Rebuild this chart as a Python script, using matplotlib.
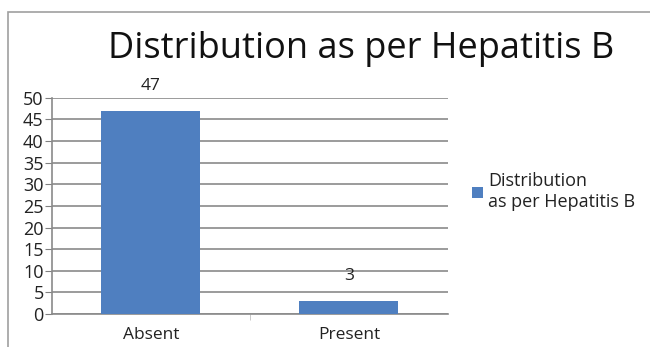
import numpy as np
import matplotlib.pyplot as plt
from matplotlib.patches import Rectangle

categories = ['Absent', 'Present']
counts = [47, 3]
series_name = 'Distribution\nas per Hepatitis B'
title = 'Distribution as per Hepatitis B'
yticks = list(range(0, 51, 5))

plt.rcParams['font.family'] = ['Open Sans', 'DejaVu Sans']

fig = plt.figure(figsize=(6.5, 3.47), dpi=100)
ax = fig.add_axes([0.08, 0.095, 0.609, 0.623])

# outer frame like the office chart border
fig.patches.append(Rectangle((8/650, -0.05), 1.0, 1 - 12/347 + 0.05,
                             transform=fig.transFigure, fill=False,
                             edgecolor='#a0a0a0', linewidth=1.2))

x = np.arange(len(categories))
bars = ax.bar(x, counts, width=0.5, color='#4f7fc0', zorder=3)
for b, v in zip(bars, counts):
    ax.text(b.get_x() + b.get_width()/2, v + 4, str(v), ha='center', va='bottom',
            fontsize=12.5, color='#222222')

ax.set_xlim(-0.5, 1.5)
ax.set_ylim(0, 50)
ax.set_yticks(yticks)
ax.set_yticklabels([str(t) for t in yticks], fontsize=13, color='#222222')
ax.tick_params(axis='y', length=5, color='#808080', pad=1)
ax.set_xticks(x)
ax.set_xticklabels(categories, fontsize=12.5, color='#222222')
ax.tick_params(axis='x', length=0, pad=9)
ax.set_xticks([0.5], minor=True)
ax.tick_params(axis='x', which='minor', length=4, color='#c0c0c0')
ax.yaxis.grid(True, color='#8a8a8a', linewidth=1.2, zorder=0)
for s in ['top', 'right']:
    ax.spines[s].set_visible(False)
for s in ['left', 'bottom']:
    ax.spines[s].set_color('#8a8a8a')
    ax.spines[s].set_linewidth(1.2)

fig.text(0.555, 0.86, title, ha='center', va='center', fontsize=26,
         fontweight='medium', color='#111111')

leg = ax.legend([bars[0]], [series_name], loc='center left', bbox_to_anchor=(1.02, 0.565),
                frameon=False, fontsize=13, handlelength=0.6, handleheight=0.6,
                handletextpad=0.3, labelspacing=0.1)
for t in leg.get_texts():
    t.set_color('#222222')

fig.savefig('out.png', dpi=100)
